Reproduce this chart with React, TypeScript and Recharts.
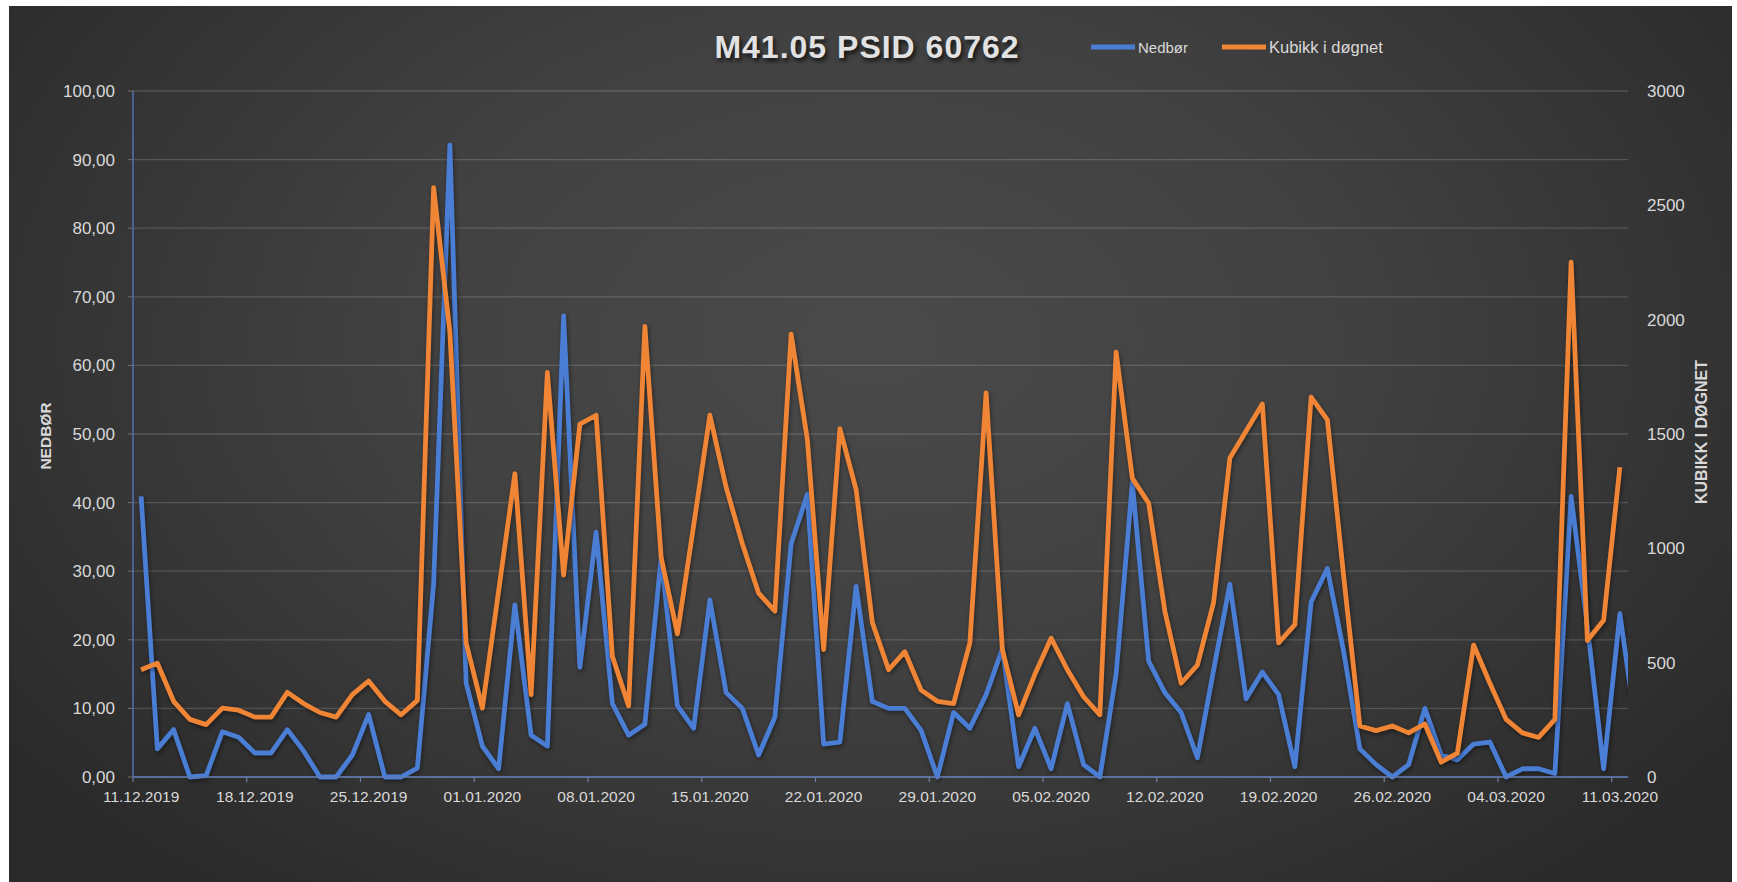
import React from 'react';
import { LineChart, Line, XAxis, YAxis, CartesianGrid } from 'recharts';

const xTickLabels = ['11.12.2019','18.12.2019','25.12.2019','01.01.2020','08.01.2020','15.01.2020','22.01.2020','29.01.2020','05.02.2020','12.02.2020','19.02.2020','26.02.2020','04.03.2020','11.03.2020'];
const xTickDays = [0,7,14,21,28,35,42,49,56,63,70,77,84,91];
const leftTicks = [0,10,20,30,40,50,60,70,80,90,100];
const rightTicks = [0,500,1000,1500,2000,2500,3000];

const nedbor = [
  40.9, 4.1, 6.9, 0, 0.2, 6.6, 5.8, 3.5, 3.5, 6.9,
  3.8, 0, 0, 3.2, 9.1, 0, 0, 1.3, 28.1, 92.1,
  13.7, 4.5, 1.2, 25.1, 6.1, 4.5, 67.2, 16.0, 35.7, 10.7,
  6.1, 7.7, 32.0, 10.4, 7.1, 25.8, 12.3, 10.0, 3.2, 8.7,
  34.0, 41.2, 4.8, 5.1, 27.8, 11.0, 10.0, 10.0, 6.8, 0,
  9.4, 7.1, 12.0, 18.7, 1.5, 7.1, 1.2, 10.7, 1.8, 0,
  15.0, 42.9, 16.9, 12.3, 9.4, 2.8, 15.6, 28.1, 11.4, 15.3,
  12.0, 1.5, 25.5, 30.4, 18.3, 4.1, 1.8, 0, 1.8, 10.0,
  3.2, 2.5, 4.8, 5.1, 0, 1.2, 1.2, 0.5, 40.9, 22.0,
  1.2, 23.8, 7.0,
];

const kubikk = [
  469, 498, 331, 252, 229, 301, 292, 262, 262, 370,
  321, 282, 262, 360, 420, 331, 272, 335, 2577, 1946,
  587, 301, 814, 1326, 360, 1769, 883, 1543, 1582, 528,
  311, 1970, 961, 626, 1099, 1582, 1267, 1020, 804, 725,
  1937, 1474, 557, 1523, 1257, 676, 469, 548, 380, 331,
  321, 587, 1680, 557, 272, 449, 607, 469, 351, 272,
  1858, 1306, 1198, 725, 410, 489, 764, 1395, 1513, 1631,
  587, 666, 1661, 1562, 880, 223, 203, 223, 193, 232,
  65, 104, 577, 410, 252, 193, 173, 252, 2252, 597,
  686, 1355,
];

const data = nedbor.map((v, i) => ({
  day: i,
  nedbor: v,
  kubikk: i < kubikk.length ? kubikk[i] : null,
}));

const BLUE = '#4A7DD4';
const ORANGE = '#F08536';
const TEXT = '#d9d9d9';
const FONT = '"Liberation Sans", Arial, sans-serif';

const W = 1737;
const H = 882;
const PLOT_LEFT = 133;
const PLOT_RIGHT = 1628;
const HALF_DAY = (PLOT_RIGHT - PLOT_LEFT) / 92 / 2;

const XTick = (props: any) => {
  const { x, y, payload } = props;
  const idx = xTickDays.indexOf(payload.value);
  return (
    <g>
      <line x1={x - HALF_DAY} x2={x - HALF_DAY} y1={y} y2={y + 5} stroke="#6c7fa6" strokeWidth={1.2} />
      <text x={x} y={y + 25} textAnchor="middle" fill={TEXT} fontSize={15.5} fontFamily={FONT}>
        {idx >= 0 ? xTickLabels[idx] : ''}
      </text>
    </g>
  );
};

const fmtLeft = (v: number) => v.toFixed(2).replace('.', ',');

export default function App() {
  return (
    <div style={{ position: 'absolute', left: 0, top: 0, width: W, height: H, background: '#ffffff', overflow: 'hidden' }}>
      <style>{`body{margin:0;} .recharts-line-curve{filter: drop-shadow(1px 2px 2px rgba(0,0,0,0.45));}`}</style>
      <div
        style={{
          position: 'absolute',
          left: 9,
          top: 6,
          width: 1723,
          height: 876,
          background:
            'radial-gradient(ellipse 62% 80% at 50% 38%, #4a4a4a 0%, #414141 45%, #2a2a2a 100%)',
        }}
      />
      <div style={{ position: 'absolute', left: 0, top: 0 }}>
        <LineChart width={W} height={H} data={data} margin={{ top: 91, right: 0, bottom: 0, left: 0 }}>
          <CartesianGrid yAxisId="left" vertical={false} stroke="rgba(255,255,255,0.16)" strokeWidth={1.3} />
          <XAxis
            type="number"
            dataKey="day"
            domain={[-0.5, 91.5]}
            allowDataOverflow
            ticks={xTickDays}
            interval={0}
            height={105}
            tickSize={0}
            tickMargin={0}
            tickLine={false}
            axisLine={{ stroke: '#5f7db8', strokeWidth: 1.5 }}
            tick={<XTick />}
          />
          <YAxis
            yAxisId="left"
            orientation="left"
            domain={[0, 100]}
            ticks={leftTicks}
            interval={0}
            width={133}
            tickFormatter={fmtLeft}
            tickSize={5}
            tickMargin={13}
            tickLine={{ stroke: '#707070' }}
            axisLine={{ stroke: '#4f72b8', strokeWidth: 1.5 }}
            tick={{ fill: TEXT, fontSize: 17, fontFamily: FONT }}
          />
          <YAxis
            yAxisId="right"
            orientation="right"
            domain={[0, 3000]}
            ticks={rightTicks}
            interval={0}
            width={109}
            tickSize={0}
            tickMargin={19}
            tickLine={false}
            axisLine={false}
            tick={{ fill: TEXT, fontSize: 17, fontFamily: FONT, textAnchor: 'start' }}
          />
          <Line
            yAxisId="left"
            type="linear"
            dataKey="nedbor"
            name="Nedbør"
            stroke={BLUE}
            strokeWidth={4.8}
            strokeLinejoin="round"
            dot={false}
            activeDot={false}
            isAnimationActive={false}
          />
          <Line
            yAxisId="right"
            type="linear"
            dataKey="kubikk"
            name="Kubikk i døgnet"
            stroke={ORANGE}
            strokeWidth={4.8}
            strokeLinejoin="round"
            dot={false}
            activeDot={false}
            isAnimationActive={false}
          />
        </LineChart>
      </div>
      <div
        style={{
          position: 'absolute',
          left: 867,
          top: 47,
          transform: 'translate(-50%, -50%)',
          fontFamily: FONT,
          fontWeight: 'bold',
          fontSize: 32,
          letterSpacing: 1,
          color: '#e2e2e2',
          whiteSpace: 'nowrap',
          textShadow: '2px 3px 4px rgba(0,0,0,0.75)',
        }}
      >
        M41.05 PSID 60762
      </div>
      <div
        style={{
          position: 'absolute',
          left: 1091,
          top: 47,
          transform: 'translateY(-50%)',
          display: 'flex',
          alignItems: 'center',
          fontFamily: FONT,
          fontSize: 15,
          color: TEXT,
          whiteSpace: 'nowrap',
        }}
      >
        <span style={{ display: 'inline-block', width: 44, height: 4.5, background: BLUE, marginRight: 3 }} />
        <span>Nedbør</span>
      </div>
      <div
        style={{
          position: 'absolute',
          left: 1222,
          top: 47,
          transform: 'translateY(-50%)',
          display: 'flex',
          alignItems: 'center',
          fontFamily: FONT,
          fontSize: 16.5,
          color: TEXT,
          whiteSpace: 'nowrap',
        }}
      >
        <span style={{ display: 'inline-block', width: 44, height: 4.5, background: ORANGE, marginRight: 3 }} />
        <span>Kubikk i døgnet</span>
      </div>
      <div
        style={{
          position: 'absolute',
          left: 46,
          top: 436,
          transform: 'translate(-50%, -50%) rotate(-90deg)',
          fontFamily: FONT,
          fontWeight: 'bold',
          fontSize: 15.5,
          color: TEXT,
          whiteSpace: 'nowrap',
        }}
      >
        NEDBØR
      </div>
      <div
        style={{
          position: 'absolute',
          left: 1702,
          top: 432,
          transform: 'translate(-50%, -50%) rotate(-90deg)',
          fontFamily: FONT,
          fontWeight: 'bold',
          fontSize: 16,
          color: TEXT,
          whiteSpace: 'nowrap',
        }}
      >
        KUBIKK I DØGNET
      </div>
    </div>
  );
}
